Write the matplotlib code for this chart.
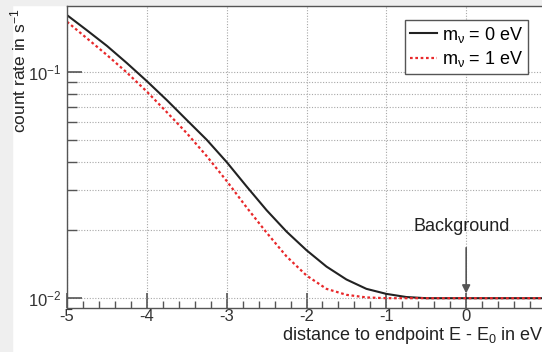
import matplotlib
matplotlib.use("Agg")
import matplotlib.pyplot as plt
from matplotlib.patches import Rectangle
from matplotlib.ticker import LogLocator, NullFormatter, MultipleLocator, FixedLocator

plt.rcParams['font.family'] = ['Liberation Sans', 'DejaVu Sans']
plt.rcParams['mathtext.fontset'] = 'custom'
plt.rcParams['mathtext.rm'] = 'Liberation Sans'
plt.rcParams['mathtext.it'] = 'Liberation Sans'
plt.rcParams['axes.unicode_minus'] = False

# data
x_m0 = [-5.0, -4.75, -4.5, -4.25, -4.0, -3.75, -3.5, -3.25, -3.0, -2.75, -2.5, -2.25, -2.0,
        -1.75, -1.5, -1.25, -1.0, -0.75, -0.5, 0.0, 0.5, 1.0]
y_m0 = [0.1786, 0.153, 0.1306, 0.1096, 0.0912, 0.0752, 0.0614, 0.0502, 0.0400, 0.0312, 0.0245,
        0.0197, 0.0163, 0.0138, 0.0121, 0.0110, 0.01045, 0.01012, 0.0100, 0.0100, 0.0100, 0.0100]
x_m1 = [-5.0, -4.75, -4.5, -4.25, -4.0, -3.75, -3.5, -3.25, -3.0, -2.75, -2.5, -2.25, -2.0,
        -1.75, -1.5, -1.25, -1.0, -0.5, 0.0, 0.5, 1.0]
y_m1 = [0.167, 0.141, 0.119, 0.0995, 0.082, 0.0665, 0.0537, 0.0425, 0.0330, 0.0252, 0.0195,
        0.0153, 0.0126, 0.0110, 0.01035, 0.01008, 0.0100, 0.0100, 0.0100, 0.0100, 0.0100]
labels = [r'm$_\nu$ = 0 eV', r'm$_\nu$ = 1 eV']
x_ticks = [-5, -4, -3, -2, -1, 0]
background_x = 0.0
background_label = 'Background'
xlabel = r'distance to endpoint E - E$_0$ in eV'
ylabel = r'count rate in s$^{-1}$'

W, H = 542, 352
fig = plt.figure(figsize=(W/100, H/100), dpi=100, facecolor='white')
ax = fig.add_axes([67/W, 1-308/H, (546-67)/W, (308-6)/H])

ax.plot(x_m0, y_m0, color='#222222', lw=1.5, label=labels[0])
ax.plot(x_m1, y_m1, color='#e8282a', lw=1.6, ls=(0, (1.2, 1.2)), label=labels[1])

ax.set_yscale('log')
ax.set_xlim(-5, 1)
ax.set_ylim(0.00905, 0.196)

ax.xaxis.set_major_locator(FixedLocator(x_ticks))
ax.xaxis.set_minor_locator(MultipleLocator(0.2))
ax.yaxis.set_major_locator(LogLocator(base=10))
ax.yaxis.set_minor_locator(LogLocator(base=10, subs=range(2, 10)))
ax.yaxis.set_minor_formatter(NullFormatter())

ax.grid(True, which='major', axis='both', color='#a8a8a8', ls=(0, (1, 1.5)), lw=0.8)
ax.grid(True, which='minor', axis='y', color='#a8a8a8', ls=(0, (1, 1.5)), lw=0.8)

for s in ['top', 'bottom', 'left', 'right']:
    ax.spines[s].set_color('#555555')
    ax.spines[s].set_linewidth(1.0)

ax.tick_params(axis='both', which='major', direction='in', length=11, width=1.2, color='#555555',
               labelsize=12, labelcolor='#333333')
ax.tick_params(axis='y', which='minor', direction='in', length=7, width=1.0, color='#555555')
ax.tick_params(axis='x', which='minor', direction='in', length=5, width=1.0, color='#555555')
ax.tick_params(axis='x', which='major', pad=1)
ax.tick_params(axis='y', which='major', pad=4)
ax.tick_params(top=False, right=False, which='both')

leg = ax.legend(loc='upper right', bbox_to_anchor=(528/W, 1-20/H), bbox_transform=fig.transFigure,
                fontsize=13, frameon=True, fancybox=False, framealpha=1, edgecolor='#555555',
                handlelength=1.5, handletextpad=0.3, borderpad=0.25, labelspacing=0.25,
                borderaxespad=0)
leg.get_frame().set_linewidth(1.0)

ax.annotate('', xy=(background_x, 0.0102), xytext=(background_x, 0.0172),
            arrowprops=dict(arrowstyle='-|>', color='#555555', lw=1.2, mutation_scale=12))
ax.text(background_x - 0.06, 0.0208, background_label, ha='center', va='center', fontsize=13,
        color='#222222')

fig.text(282/W, 1-340/H, xlabel, ha='left', va='baseline', fontsize=13, color='#222222')
fig.text(18/W, 1-8/H, ylabel, rotation=90, ha='center', va='top', fontsize=12.5, color='#222222')

# light grey page margins
fig.patches.append(Rectangle((0, 0), 12/W, 1, transform=fig.transFigure, color='#efefef', zorder=-10))
fig.patches.append(Rectangle((0, 1-5/H), 1, 5/H, transform=fig.transFigure, color='#efefef', zorder=-10))

fig.savefig('out.png', dpi=100, facecolor='white')
